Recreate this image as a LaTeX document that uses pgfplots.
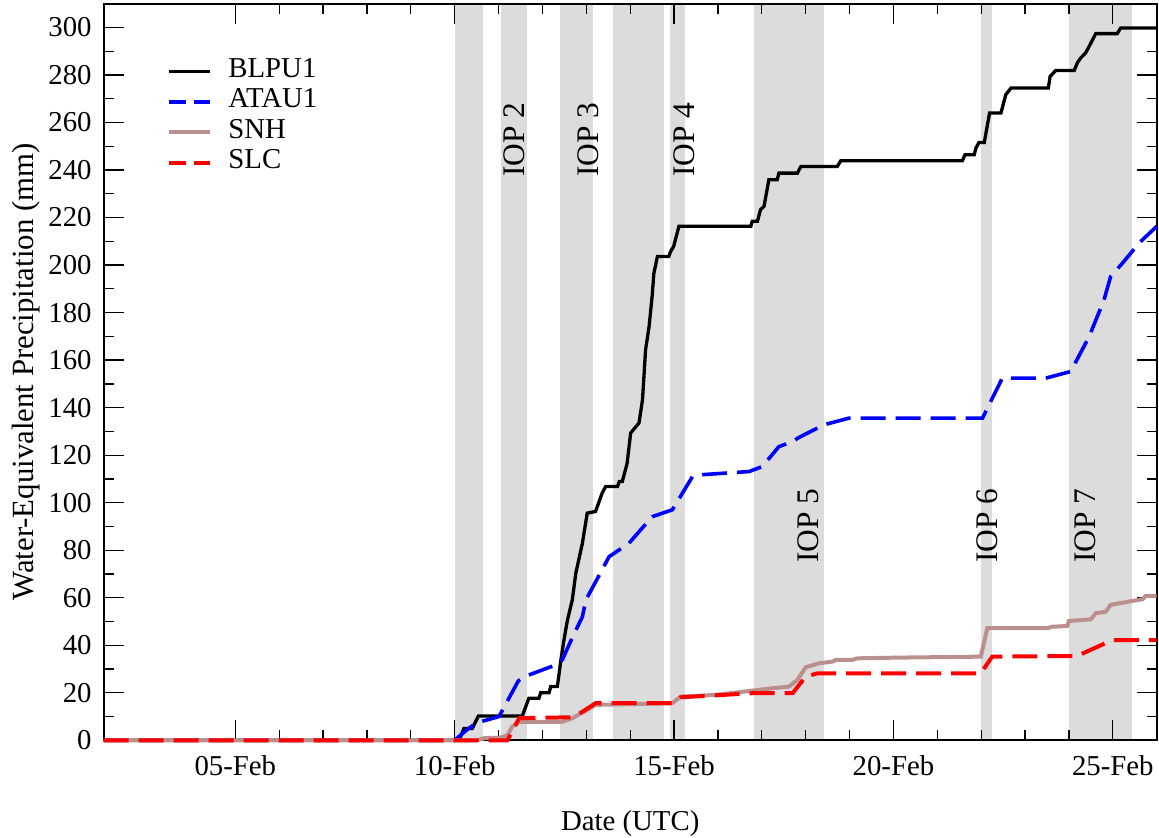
\documentclass[border=0pt]{standalone}
\usepackage{fontspec}
\setmainfont{Liberation Serif}
\usepackage{pgfplots}
\pgfplotsset{compat=1.18}
\definecolor{bandgray}{RGB}{220,220,220}
\definecolor{snhbrown}{RGB}{188,143,143}

\begin{document}
\begin{tikzpicture}
\begin{axis}[
    at={(51.85pt,48.85pt)}, anchor=south west,
    scale only axis, width=526.5pt, height=368.3pt,
    xmin=2, xmax=26, ymin=0, ymax=310,
    set layers, clip=false,
    xtick={5,10,15,20,25},
    xticklabels={05-Feb,10-Feb,15-Feb,20-Feb,25-Feb},
    minor x tick num=4,
    ytick={0,20,...,300},
    minor y tick num=1,
    tick align=inside,
    major tick length=10pt, minor tick length=5pt,
    tick style={black, line width=0.65pt},
    axis line style={line width=1pt},
    /pgf/number format/assume math mode=true,
    tick label style={font=\rmfamily\fontsize{14.4}{16}\selectfont},
    yticklabel style={inner xsep=5.85pt},
    xticklabel style={inner ysep=0pt, yshift=-7.35pt},
    xlabel={Date (UTC)},
    ylabel={Water-Equivalent Precipitation (mm)},
    xlabel style={font=\rmfamily\fontsize{14.4}{16}\selectfont, at={(axis description cs:0.5,-0.1227)}, anchor=base},
    ylabel style={font=\rmfamily\fontsize{15.4}{17}\selectfont, at={(axis description cs:-0.0671,0.5)}, anchor=base},
    legend cell align=left,
    legend style={draw=none, fill=none, inner sep=0pt, row sep=0pt,
        at={(axis description cs:0.0601,0.9288)}, anchor=north west,
        font=\rmfamily\fontsize{14.4}{16}\selectfont,
        nodes={inner sep=0pt, text height=10.5pt, text depth=4.65pt},
        /tikz/every odd column/.append style={column sep=8pt}},
    legend image code/.code={\draw[#1] (0pt,0pt) -- (20.5pt,0pt);},
]
% IOP periods
\addplot[on layer=axis background, fill=bandgray, draw=none, forget plot] coordinates {(10.00,0) (10.65,0) (10.65,310) (10.00,310)} -- cycle;
\addplot[on layer=axis background, fill=bandgray, draw=none, forget plot] coordinates {(11.06,0) (11.65,0) (11.65,310) (11.06,310)} -- cycle;
\addplot[on layer=axis background, fill=bandgray, draw=none, forget plot] coordinates {(12.40,0) (13.16,0) (13.16,310) (12.40,310)} -- cycle;
\addplot[on layer=axis background, fill=bandgray, draw=none, forget plot] coordinates {(13.61,0) (14.78,0) (14.78,310) (13.61,310)} -- cycle;
\addplot[on layer=axis background, fill=bandgray, draw=none, forget plot] coordinates {(14.91,0) (15.24,0) (15.24,310) (14.91,310)} -- cycle;
\addplot[on layer=axis background, fill=bandgray, draw=none, forget plot] coordinates {(16.82,0) (18.42,0) (18.42,310) (16.82,310)} -- cycle;
\addplot[on layer=axis background, fill=bandgray, draw=none, forget plot] coordinates {(21.99,0) (22.25,0) (22.25,310) (21.99,310)} -- cycle;
\addplot[on layer=axis background, fill=bandgray, draw=none, forget plot] coordinates {(24.01,0) (25.43,0) (25.43,310) (24.01,310)} -- cycle;

\begin{scope}[font=\rmfamily\fontsize{15.7}{17}\selectfont]
\node[rotate=90, anchor=base] at (axis cs:11.58,252.8) {IOP 2};
\node[rotate=90, anchor=base] at (axis cs:13.27,252.8) {IOP 3};
\node[rotate=90, anchor=base] at (axis cs:15.46,252.8) {IOP 4};
\node[rotate=90, anchor=base] at (axis cs:18.29,90.3) {IOP 5};
\node[rotate=90, anchor=base] at (axis cs:22.37,90.3) {IOP 6};
\node[rotate=90, anchor=base] at (axis cs:24.60,90.3) {IOP 7};
\end{scope}

% BLPU1
\addplot[black, line width=1.65pt, forget plot] coordinates {
(2,0) (10.1,0) (10.21,5.0) (10.40,5.0) (10.54,10.2) (11.54,10.2) (11.69,17.7) (11.92,17.7)
(11.96,20.0) (12.15,20.0) (12.19,22.6) (12.34,22.6) (12.42,33.8) (12.49,42.2) (12.57,50.6)
(12.68,59.1) (12.76,70.3) (12.91,82.9) (13.02,95.6) (13.21,96.3) (13.36,104) (13.44,106.8)
(13.71,106.8) (13.75,108.9) (13.82,108.9) (13.93,116.6) (14.01,129.3) (14.13,132) (14.20,133.5)
(14.28,143.3) (14.35,164.3) (14.43,174.1) (14.50,187) (14.54,196.6) (14.62,203.6) (14.88,203.6)
(14.92,205.7) (14.99,207.8) (15.07,213.5) (15.11,216.3) (16.75,216.3) (16.78,218.4) (16.90,218.4)
(16.97,223.3) (17.05,224.7) (17.16,235.9) (17.35,235.9) (17.39,238.7) (17.81,238.7) (17.89,241.5)
(18.72,241.5) (18.80,243.9) (21.57,243.9) (21.63,246.4) (21.84,246.4) (21.88,249.3) (21.95,251.6)
(22.07,251.6) (22.19,264) (22.45,264) (22.56,271.7) (22.68,274.5) (23.53,274.5) (23.57,279.4)
(23.70,281.9) (24.12,281.9) (24.19,285.1) (24.27,287.2) (24.38,289.3) (24.46,292) (24.61,297.4)
(25.10,297.4) (25.18,299.8) (26,299.8)
};
% ATAU1
\addplot[blue, line width=1.8pt, dash pattern=on 12.5pt off 5pt, forget plot] coordinates {
(2,0) (10.0,0) (10.25,4) (10.48,7.2) (11.01,10) (11.45,25) (11.62,27) (12.30,31.7) (12.45,33.8)
(12.7,44) (12.91,52) (12.99,59.1) (13.25,68) (13.52,77.3) (13.97,82.9) (14.50,94.1) (14.96,97.0)
(15.42,111.0) (15.57,111.7) (16.71,113.1) (17.01,115.2) (17.39,123.6) (17.70,125.7) (17.85,127.5)
(18.42,132.8) (18.99,135.6) (22.03,135.6) (22.48,152.4) (23.47,152.4) (24.04,155.2) (24.46,169.9)
(24.80,185.4) (24.95,195.2) (25.22,200.8) (25.60,209.3) (26,216.3)
};
% SNH
\addplot[snhbrown, line width=2pt, forget plot] coordinates {
(2,0) (10.5,0) (10.7,1) (11.0,1) (11.2,2) (11.31,5.7) (11.47,7.8) (12.45,7.8) (12.68,9.3)
(13.02,12.8) (13.21,14.9) (14.96,15.6) (15.15,18.4) (15.95,19.1) (17.24,21.9) (17.62,22.6)
(17.81,25.4) (17.96,29.6) (18.00,30.7) (18.30,32.4) (18.61,33.1) (18.68,33.8) (19.06,33.8)
(19.17,34.5) (20.13,34.8) (21.99,35.2) (22.14,47.2) (23.51,47.2) (23.62,47.8) (23.96,48.1)
(24.0,50.2) (24.50,50.9) (24.61,53.5) (24.84,54.1) (24.95,57.0) (25.22,57.9) (25.68,59.4)
(25.75,60.8) (26,60.8)
};
% SLC
\addplot[red, line width=2pt, dash pattern=on 12.5pt off 5pt, forget plot] coordinates {
(2,0) (11.20,0) (11.47,9.3) (12.68,9.7) (12.91,12.0) (13.21,15.6) (14.96,15.6) (15.15,18.1)
(16.78,19.8) (17.70,19.8) (18.00,26.8) (18.27,28.2) (21.99,28.2) (22.25,35.2) (24.19,35.5)
(24.99,42.2) (26,42.2)
};

\addlegendimage{black, line width=1.65pt}
\addlegendentry{BLPU1}
\addlegendimage{blue, line width=1.8pt, dash pattern=on 8.3pt off 4pt}
\addlegendentry{ATAU1}
\addlegendimage{snhbrown, line width=2pt}
\addlegendentry{SNH}
\addlegendimage{red, line width=2pt, dash pattern=on 8.3pt off 4pt}
\addlegendentry{SLC}
\end{axis}
\pgfresetboundingbox
\path[use as bounding box] (0,0) rectangle (579.5pt,419pt);
\end{tikzpicture}
\end{document}
